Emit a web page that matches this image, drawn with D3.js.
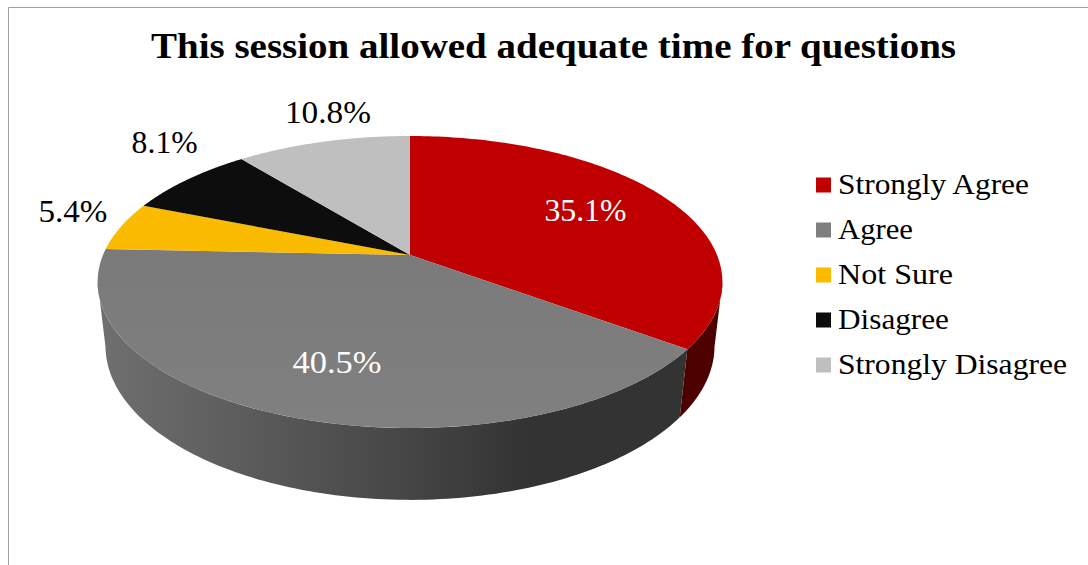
<!DOCTYPE html>
<html><head><meta charset="utf-8">
<script src="https://cdn.jsdelivr.net/npm/d3@7"></script>
<style>html,body{margin:0;padding:0;background:#fff}svg{display:block}text{font-family:"Liberation Serif",serif}</style>
</head><body><div id="chart"></div>
<script>
const titleText = "This session allowed adequate time for questions";
const categories = ["Strongly Agree", "Agree", "Not Sure", "Disagree", "Strongly Disagree"];
const percentages = [35.1, 40.5, 5.4, 8.1, 10.8];
const topColors = ["#c00000", "url(#topGrey)", "#fbbb00", "#0d0d0d", "#bfbfbf"];
const legendColors = ["#c00000", "#7f7f7f", "#fbbb00", "#0d0d0d", "#bfbfbf"];

const W = 1088, H = 565;
const svg = d3.select("#chart").append("svg").attr("width", W).attr("height", H);

// Perspective tilt of the 3D pie: a homography from the unit disc (x, y, depth) to the screen
const view = {cx: 410, cy: 255, a: 307, b: 141, k: 0.185, m: 0.025, c: 64.7};
function project(theta, r, z) {
  const x = r * Math.sin(theta), y = r * Math.cos(theta);
  const w = 1 + view.k * y + view.m * z;
  return [view.cx + view.a * x / w, view.cy + (-view.b * y + view.c * z) / w];
}

const arcs = d3.pie().sort(null).value(d => d)(percentages);

// Gradients
const defs = svg.append("defs");
const grey = defs.append("linearGradient").attr("id", "wallGrey").attr("gradientUnits", "userSpaceOnUse")
  .attr("x1", 97).attr("x2", 680).attr("y1", 0).attr("y2", 0);
[[0, "#707070"], [0.5, "#484848"], [0.74, "#333333"], [1, "#333333"]]
  .forEach(([o, c]) => grey.append("stop").attr("offset", o).attr("stop-color", c));
const topGrey = defs.append("linearGradient").attr("id", "topGrey").attr("gradientUnits", "userSpaceOnUse")
  .attr("x1", 0).attr("x2", 0).attr("y1", 250).attr("y2", 428);
[[0, "#7a7a7a"], [1, "#808080"]]
  .forEach(([o, c]) => topGrey.append("stop").attr("offset", o).attr("stop-color", c));

const line = d3.line();
const samples = (a0, a1) => d3.range(0, 121).map(i => a0 + (a1 - a0) * i / 120);

// Walls: only the near side, between the two silhouette tangents of the disc
const tangent = Math.PI / 2 + Math.asin(view.k);
const wallStart = tangent;
const wallEnd = 2 * Math.PI - tangent;
const wallFill = ["#4d0000", "url(#wallGrey)", "none", "none", "none"];
const wallG = svg.append("g");
arcs.forEach((s, i) => {
  const a0 = Math.max(s.startAngle, wallStart), a1 = Math.min(s.endAngle, wallEnd);
  if (a1 <= a0 || wallFill[i] === "none") return;
  const ts = samples(a0, a1);
  const pts = ts.map(t => project(t, 1, 0)).concat(ts.slice().reverse().map(t => project(t, 1, 1)));
  wallG.append("path").attr("d", line(pts) + "Z").attr("fill", wallFill[i]);
});

// Top face
const topG = svg.append("g");
arcs.forEach((s, i) => {
  const pts = [project(0, 0, 0)].concat(samples(s.startAngle, s.endAngle).map(t => project(t, 1, 0)));
  topG.append("path").attr("d", line(pts) + "Z").attr("fill", topColors[i]);
});

// Frame (top and left only)
svg.append("path").attr("d", `M8.5 ${H}V7.5H${W}`).attr("fill", "none").attr("stroke", "#a0a0a0").attr("stroke-width", 1);

function fitText(sel, width) { return sel.attr("textLength", width).attr("lengthAdjust", "spacingAndGlyphs"); }

// Title
fitText(svg.append("text").attr("x", 151).attr("y", 58).attr("font-size", 35).attr("font-weight", "bold")
  .attr("fill", "#000").text(titleText), 805);

// Data labels placed relative to the slice's mid angle
const labelPlacement = [
  {r: 0.68, dx: -1, dy: -3, w: 82, fill: "#fff"},
  {r: 0.65, dx: 2, dy: 11, w: 89, fill: "#fff"},
  {r: 1.12, dx: -15, dy: -11, w: 69, fill: "#000"},
  {r: 1, dx: -23, dy: -36, w: 66, fill: "#000"},
  {r: 1, dx: 5, dy: -29, w: 86, fill: "#000"}
];
arcs.forEach((s, i) => {
  const p = labelPlacement[i];
  const [x, y] = project((s.startAngle + s.endAngle) / 2, p.r, 0);
  svg.append("text").attr("x", x + p.dx - p.w / 2)
    .attr("y", y + p.dy + 10).attr("font-size", 31).attr("fill", p.fill)
    .call(fitText, p.w)
    .text(percentages[i].toFixed(1) + "%");
});

// Legend
const legendY = d3.scalePoint().domain(categories).range([185, 365]);
const legendWidths = [191, 75, 115, 111, 229];
const legend = svg.append("g");
categories.forEach((c, i) => {
  legend.append("rect").attr("x", 816).attr("y", legendY(c) - 7.5).attr("width", 15).attr("height", 15).attr("fill", legendColors[i]);
  legend.append("text").attr("x", 838).attr("y", legendY(c) + 9).attr("font-size", 30).attr("fill", "#000")
    .call(fitText, legendWidths[i]).text(c);
});
</script></body></html>
